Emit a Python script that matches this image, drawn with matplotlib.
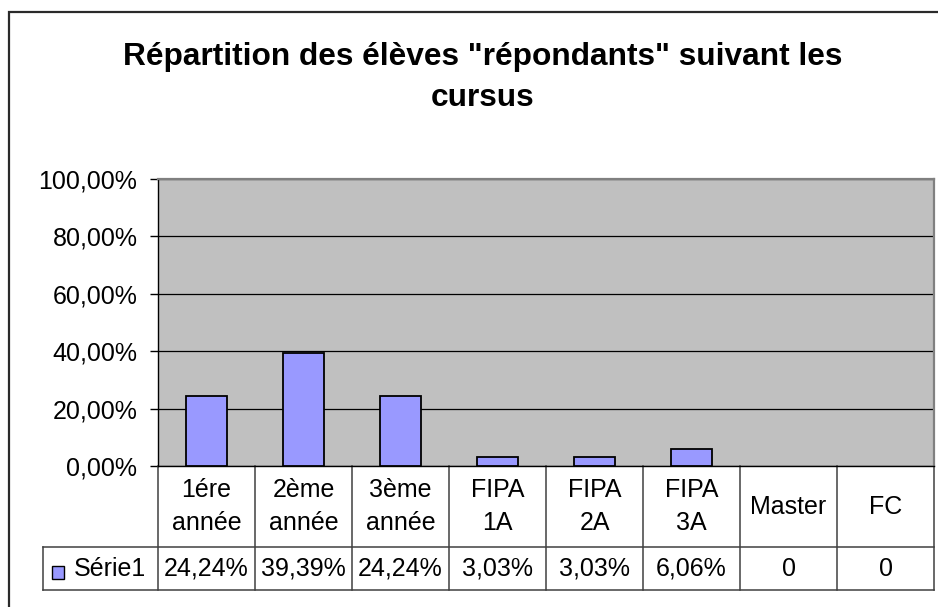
import matplotlib
matplotlib.use("Agg")
import matplotlib.pyplot as plt
from matplotlib.patches import Rectangle
from matplotlib.transforms import blended_transform_factory

# Data
categories = ["1ére\nannée", "2ème\nannée", "3ème\nannée", "FIPA\n1A",
              "FIPA\n2A", "FIPA\n3A", "Master", "FC"]
series_name = "Série1"
values = [24.24, 39.39, 24.24, 3.03, 3.03, 6.06, 0, 0]
y_ticks = [0, 20, 40, 60, 80, 100]
title_lines = ['Répartition des élèves "répondants" suivant les', 'cursus']

plt.rcParams['font.family'] = ['Liberation Sans', 'DejaVu Sans']

W, H = 938, 607
DPI = 100
fig = plt.figure(figsize=(W / DPI, H / DPI), dpi=DPI)
fig.patch.set_facecolor('white')


def fx(px):
    return px / W


def fy(py):
    return 1 - py / H


FS = 18
BAR_COLOR = '#9999FF'
LINE_COLOR = '#404040'

# Outer chart frame
fig.patches.append(Rectangle((fx(9), fy(700)), 2.0, (700 - 12) / H,
                             transform=fig.transFigure, fill=False,
                             edgecolor='#2a2a2a', linewidth=1.6, zorder=0))

# Plot area
left, right, top, bottom = 158, 934, 179, 466
ax = fig.add_axes([fx(left), fy(bottom), fx(right - left), (bottom - top) / H])
ax.set_facecolor('#C0C0C0')

xs = list(range(len(values)))
ax.bar(xs, values, width=0.42, color=BAR_COLOR, edgecolor='black',
       linewidth=[1.3 if v else 0 for v in values], zorder=3)
ax.set_xlim(-0.5, len(values) - 0.5)
ax.set_ylim(0, 100)
ax.set_yticks(y_ticks)
ax.set_yticklabels([f"{t:.2f}%".replace('.', ',') for t in y_ticks], fontsize=FS)
ax.yaxis.grid(True, color='black', linewidth=0.9)
ax.set_axisbelow(True)
ax.set_xticks([])
ax.tick_params(axis='y', length=5.8, width=1.0, pad=9, colors='black')
for side in ('left', 'bottom'):
    ax.spines[side].set_color('black')
    ax.spines[side].set_linewidth(1.0)
for side in ('top', 'right'):
    ax.spines[side].set_color('#808080')
    ax.spines[side].set_linewidth(1.6)

# Data table below the plot
tr = blended_transform_factory(ax.transData, ax.transAxes)
plot_h = bottom - top
y_head = -(547 - bottom) / plot_h
y_val = -(590 - bottom) / plot_h
legend_left = (43 - left) / (right - left)

line_kw = dict(color=LINE_COLOR, linewidth=1.1, clip_on=False)
for i in range(len(values) + 1):
    xb = i - 0.5
    ax.plot([xb, xb], [0, y_val], transform=tr, **line_kw)
for yy in (y_head, y_val):
    ax.plot([legend_left, 1], [yy, yy], transform=ax.transAxes, **line_kw)
ax.plot([legend_left, legend_left], [y_head, y_val], transform=ax.transAxes, **line_kw)


def fmt(v):
    if v == 0:
        return "0"
    return f"{v:.2f}%".replace('.', ',')


for i, (cat, v) in enumerate(zip(categories, values)):
    ax.text(i, y_head / 2, cat, transform=tr, ha='center', va='center',
            fontsize=FS, linespacing=1.45, clip_on=False)
    ax.text(i, (y_head + y_val) / 2, fmt(v), transform=tr, ha='center',
            va='center', fontsize=FS, clip_on=False)

# Legend key inside the table
key_x = (52 - left) / (right - left)
key_w = 12 / (right - left)
key_y = -(579 - bottom) / plot_h
key_h = 13 / plot_h
ax.add_patch(Rectangle((key_x, key_y), key_w, key_h, transform=ax.transAxes,
                       facecolor=BAR_COLOR, edgecolor='black', linewidth=1.0,
                       clip_on=False))
ax.text((74 - left) / (right - left), (y_head + y_val) / 2, series_name,
        transform=ax.transAxes, ha='left', va='center', fontsize=FS,
        clip_on=False)

# Title
fig.text(fx(483), fy(65), title_lines[0], ha='center', va='baseline',
         fontsize=22.8, fontweight='bold')
fig.text(fx(483), fy(106), title_lines[1], ha='center', va='baseline',
         fontsize=22.8, fontweight='bold')

fig.savefig('out.png', dpi=DPI)
